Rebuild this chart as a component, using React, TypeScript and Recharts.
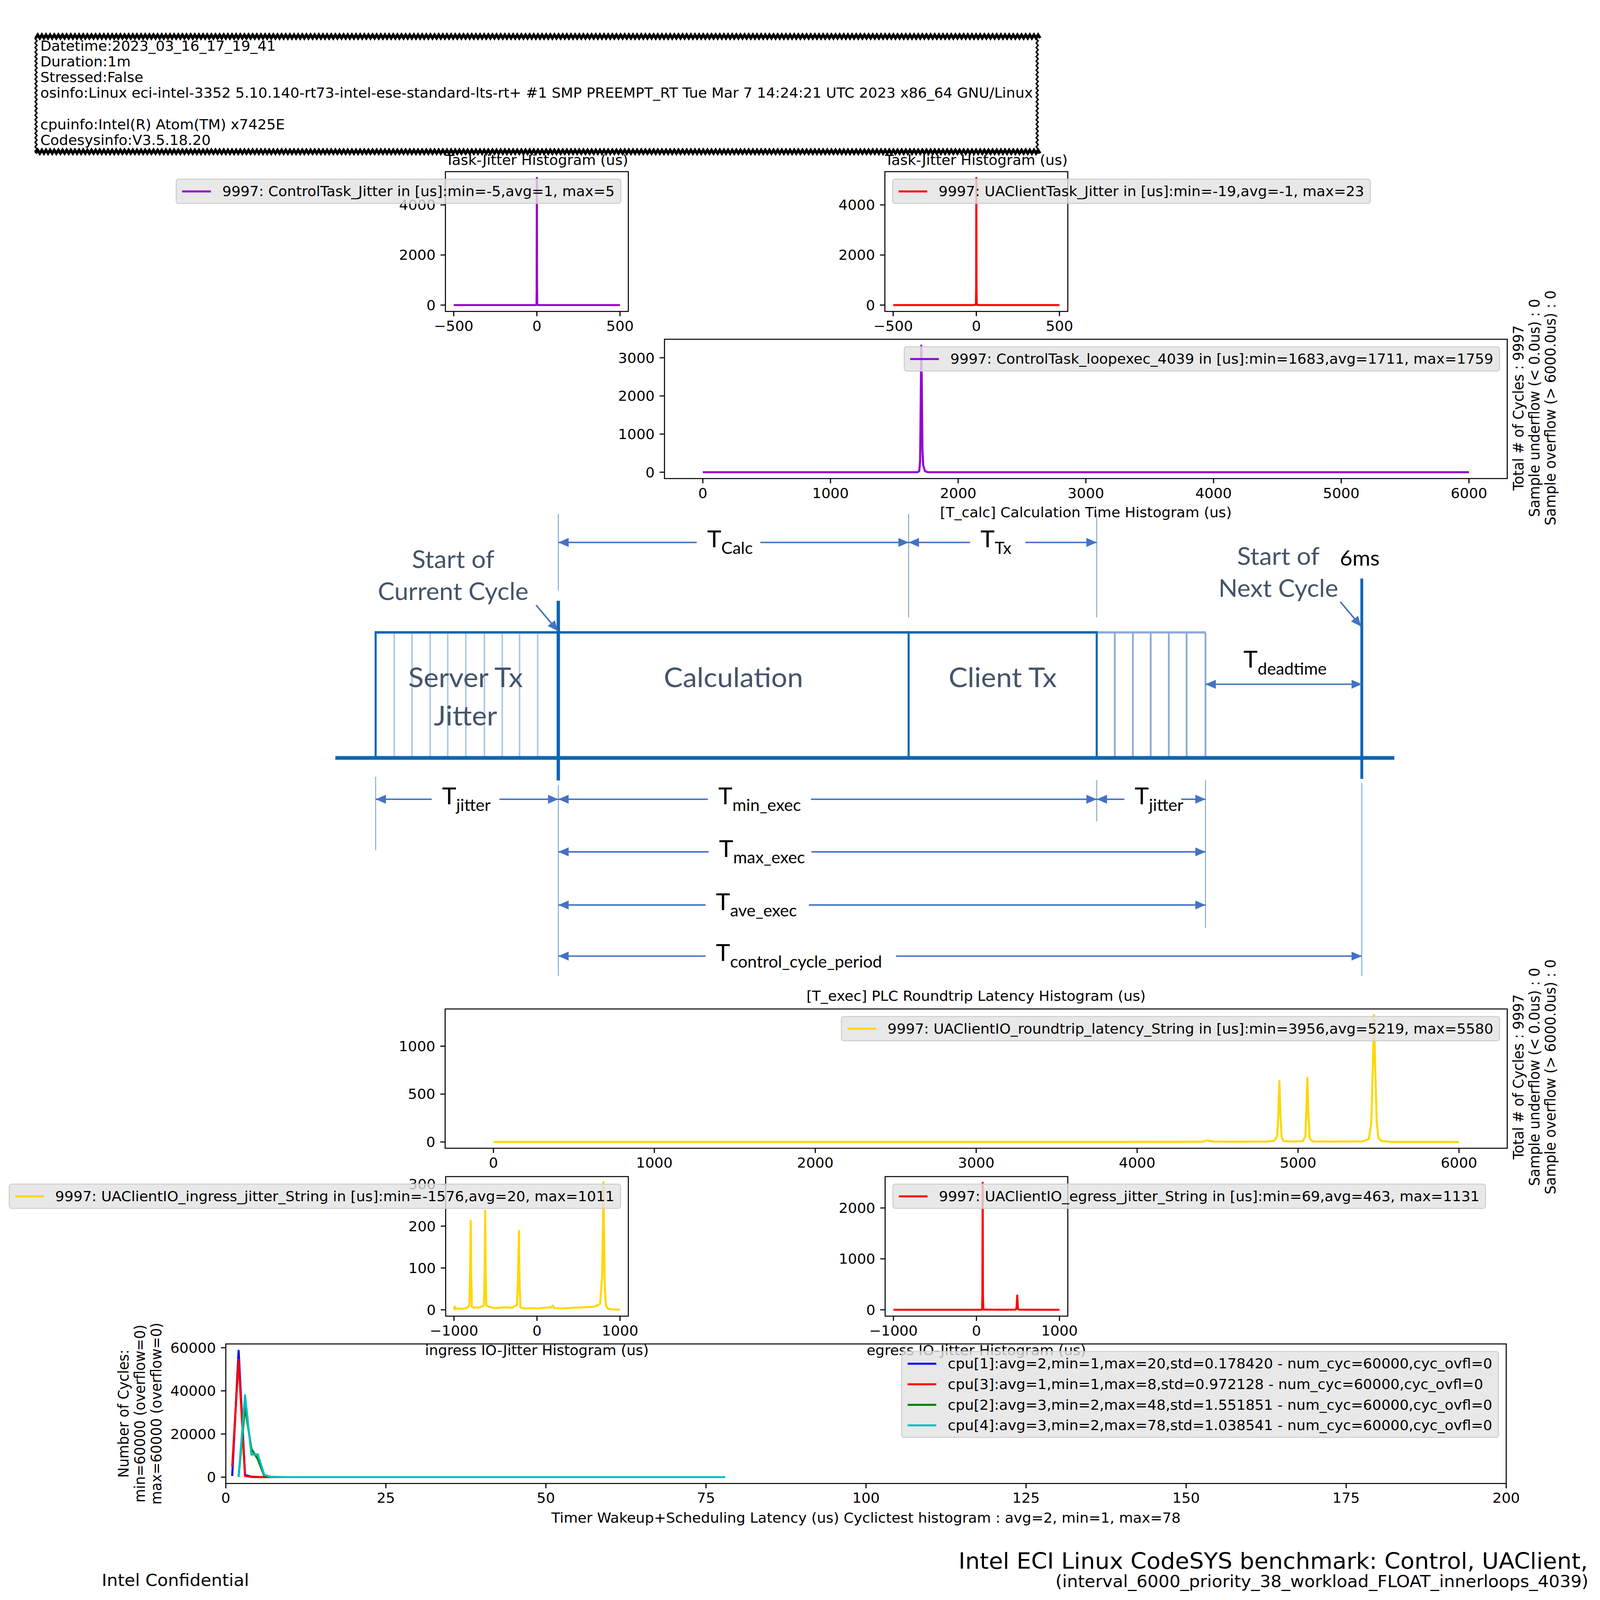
import React from "react";
import { LineChart, Line, XAxis, YAxis } from "recharts";

const W = 6193;
const H = 6386;
const FS = 55.6;
const FONT = "DejaVu Sans";

// ---- data ----
const controlJitter = [[-500, 0], [-6, 0], [-5, 3], [-2, 40], [-1, 600], [0, 5076], [1, 900], [2, 60], [5, 2], [6, 0], [500, 0]];
const uaClientJitter = [[-500, 0], [-20, 0], [-19, 1], [-5, 8], [-2, 60], [-1, 700], [0, 5076], [1, 800], [2, 80], [5, 6], [23, 1], [24, 0], [500, 0]];
const calcTime = [[0, 0], [1682, 0], [1683, 2], [1695, 30], [1702, 300], [1707, 1900], [1711, 3320], [1715, 2300], [1720, 600], [1726, 180], [1733, 110], [1740, 30], [1759, 2], [1760, 0], [6000, 0]];
const roundtrip = [[0, 0], [3955, 0], [3956, 1], [4400, 2], [4430, 12], [4440, 18], [4450, 8], [4480, 4], [4600, 3], [4800, 4], [4850, 10], [4870, 60], [4878, 300], [4884, 637], [4890, 300], [4898, 50], [4910, 8], [4960, 4], [5030, 8], [5046, 60], [5052, 350], [5058, 670], [5064, 300], [5072, 40], [5090, 6], [5200, 4], [5400, 6], [5440, 30], [5455, 200], [5465, 800], [5472, 1325], [5479, 800], [5489, 200], [5500, 40], [5520, 8], [5580, 1], [5581, 0], [6000, 0]];
const ingress = [[-1000, 0], [-990, 8], [-985, 1], [-960, 3], [-900, 2], [-850, 4], [-815, 10], [-805, 90], [-798, 213], [-792, 80], [-785, 8], [-760, 4], [-740, 6], [-700, 5], [-640, 10], [-630, 90], [-624, 237], [-618, 80], [-610, 10], [-560, 6], [-500, 4], [-400, 6], [-300, 5], [-240, 12], [-228, 80], [-217, 188], [-210, 60], [-200, 6], [-150, 3], [-50, 4], [0, 3], [100, 5], [170, 6], [190, 10], [205, 4], [300, 3], [450, 5], [600, 6], [700, 8], [760, 14], [785, 80], [795, 200], [800, 305], [806, 200], [815, 60], [830, 10], [860, 2], [900, 1], [1000, 0]];
const egress = [[-1000, 0], [60, 0], [68, 5], [72, 300], [75, 2495], [78, 300], [82, 10], [100, 3], [300, 1], [470, 2], [482, 20], [487, 150], [491, 280], [495, 150], [500, 20], [510, 2], [700, 1], [1000, 0]];
const cpu1 = [[1, 500], [2, 58600], [3, 1000], [4, 200], [5, 60], [6, 20], [7, 10], [8, 5], [9, 3], [10, 2], [12, 1], [15, 1], [20, 1]];
const cpu3 = [[1, 4900], [2, 54400], [3, 550], [4, 80], [5, 20], [6, 5], [7, 2], [8, 1]];
const cpu2 = [[2, 300], [3, 32500], [4, 13100], [5, 8300], [6, 550], [7, 120], [8, 40], [9, 20], [10, 10], [12, 5], [15, 3], [20, 2], [30, 1], [48, 1]];
const cpu4 = [[2, 50], [3, 38000], [4, 10400], [5, 10600], [6, 1100], [7, 150], [8, 50], [9, 20], [10, 10], [15, 4], [20, 3], [30, 2], [50, 1], [78, 1]];

const jitterTicksX = [-500, 0, 500];
const jitterTicksY = [0, 2000, 4000];
const usTicksX = [0, 1000, 2000, 3000, 4000, 5000, 6000];
const calcTicksY = [0, 1000, 2000, 3000];
const execTicksY = [0, 500, 1000];
const ioTicksX = [-1000, 0, 1000];
const ingressTicksY = [0, 100, 200, 300];
const egressTicksY = [0, 1000, 2000];
const cycTicksX = [0, 25, 50, 75, 100, 125, 150, 175, 200];
const cycTicksY = [0, 20000, 40000, 60000];

const infoLines = [
  "Datetime:2023_03_16_17_19_41",
  "Duration:1m",
  "Stressed:False",
  "osinfo:Linux eci-intel-3352 5.10.140-rt73-intel-ese-standard-lts-rt+ #1 SMP PREEMPT_RT Tue Mar 7 14:24:21 UTC 2023 x86_64 GNU/Linux",
  "",
  "cpuinfo:Intel(R) Atom(TM) x7425E",
  "Codesysinfo:V3.5.18.20",
];
const sideLines = ["Total # of Cycles : 9997", "Sample underflow (< 0.0us) : 0", "Sample overflow (> 6000.0us) : 0"];
const cycYLabel = ["Number of Cycles:", "min=60000 (overflow=0)", "max=60000 (overflow=0)"];

const pts = (arr: number[][]) => arr.map(([x, y]) => ({ x, y }));
const fmt = (v: number) => String(v).replace("-", "\u2212");

const TICK = { fill: "#000", fontSize: FS, fontFamily: FONT };
const TICKLINE = { stroke: "#000", strokeWidth: 4.4 };
const PADL = 320, PADB = 140, PADT = 20, PADR = 160;

type Series = { data: number[][]; color: string };

function Panel(props: {
  box: number[];
  xDomain: number[];
  xTicks: number[];
  yDomain: number[];
  yTicks: number[];
  series: Series[];
}) {
  const [l, t, r, b] = props.box;
  const w = r - l + PADL + PADR;
  const h = b - t + PADT + PADB;
  return (
    <>
      <div style={{ position: "absolute", left: l - PADL, top: t - PADT }}>
        <LineChart width={w} height={h} margin={{ top: PADT, right: PADR, left: 0, bottom: 0 }}>
          <XAxis
            type="number"
            dataKey="x"
            domain={props.xDomain}
            ticks={props.xTicks}
            allowDataOverflow
            interval={0}
            height={PADB}
            tickSize={19}
            tickMargin={19}
            axisLine={false}
            tickLine={TICKLINE}
            tick={TICK}
            tickFormatter={fmt}
          />
          <YAxis
            type="number"
            domain={props.yDomain}
            ticks={props.yTicks}
            allowDataOverflow
            interval={0}
            width={PADL}
            tickSize={19}
            tickMargin={19}
            axisLine={false}
            tickLine={TICKLINE}
            tick={TICK}
            tickFormatter={fmt}
          />
          {props.series.map((s, i) => (
            <Line
              key={i}
              data={pts(s.data)}
              dataKey="y"
              type="linear"
              stroke={s.color}
              strokeWidth={8}
              strokeLinejoin="round"
              dot={false}
              isAnimationActive={false}
            />
          ))}
        </LineChart>
      </div>
      <div
        style={{
          position: "absolute",
          left: l - 2.2,
          top: t - 2.2,
          width: r - l + 4.4,
          height: b - t + 4.4,
          border: "4.4px solid #000",
          boxSizing: "border-box",
        }}
      />
    </>
  );
}

function LegendBox(props: { side: "left" | "right"; x: number; y: number; items: { label: string; color: string }[] }) {
  const pos: React.CSSProperties = props.side === "left" ? { left: props.x } : { right: W - props.x };
  return (
    <div
      style={{
        position: "absolute",
        top: props.y,
        ...pos,
        background: "rgba(226,226,226,0.8)",
        border: "4px solid rgba(200,200,200,0.8)",
        borderRadius: 12,
        padding: "14px 22px 14px 21px",
        fontFamily: FONT,
        fontSize: FS,
        whiteSpace: "nowrap",
      }}
    >
      {props.items.map((it, i) => (
        <div key={i} style={{ display: "flex", alignItems: "center", height: 65, marginTop: i ? 17 : 0 }}>
          <div style={{ width: 111, height: 8, background: it.color, marginRight: 44 }} />
          <span>{it.label}</span>
        </div>
      ))}
    </div>
  );
}

function saw(x1: number, x2: number, y: number, amp: number, period: number) {
  let d = `M${x1},${y}`;
  for (let x = x1; x < x2; x += period) d += ` L${x + period / 2},${y - amp} L${x + period},${y}`;
  return d;
}
function sawV(x: number, y1: number, y2: number, amp: number, period: number) {
  let d = `M${x},${y1}`;
  for (let y = y1; y < y2; y += period) d += ` L${x - amp},${y + period / 2} L${x},${y + period}`;
  return d;
}

// ---- timing diagram (illustration) ----
const DG = { xs: 1454, x0: 2161, xc: 3517, xt: 4245, xj: 4666, xn: 5271, yTop: 2524, yBase: 3025 };
const serverJitterLines = [1526, 1595, 1665, 1733, 1803, 1875, 1944, 2011, 2081];
const clientJitterLines = [4315, 4385, 4454, 4524, 4593, 4666];
const guideLines = [
  [2161, 2051, 2357], [2161, 3133, 3895], [3517, 2051, 2464], [4245, 2051, 2464],
  [4245, 3113, 3279], [1454, 3100, 3394], [4666, 3113, 3703], [5271, 3125, 3895],
];
const arrows = [
  { y: 2165, x1: 2161, x2: 3517, g1: 2697, g2: 2943, sub: "Calc" },
  { y: 2165, x1: 3517, x2: 4245, g1: 3755, g2: 3969, sub: "Tx" },
  { y: 3190, x1: 1454, x2: 2161, g1: 1671, g2: 1933, sub: "jitter" },
  { y: 3190, x1: 2161, x2: 4245, g1: 2740, g2: 3139, sub: "min_exec" },
  { y: 3190, x1: 4245, x2: 4666, g1: 4352, g2: 4572, sub: "jitter" },
  { y: 3400, x1: 2161, x2: 4666, g1: 2743, g2: 3141, sub: "max_exec" },
  { y: 3612, x1: 2161, x2: 4666, g1: 2731, g2: 3131, sub: "ave_exec" },
  { y: 3816, x1: 2161, x2: 5271, g1: 2731, g2: 3468, sub: "control_cycle_period" },
];
const ARROW = "#4472c4";
const BOX = "#0b67b5";
const SLATE = "#44546a";

function Diagram() {
  return (
    <g>
      <defs>
        <marker id="ah" viewBox="0 0 10 10" refX="10" refY="5" markerWidth="40" markerHeight="36" markerUnits="userSpaceOnUse" orient="auto-start-reverse" preserveAspectRatio="none">
          <path d="M0,0 L10,5 L0,10 z" fill={ARROW} />
        </marker>
      </defs>
      {guideLines.map(([x, y1, y2], i) => (
        <line key={i} x1={x} x2={x} y1={y1} y2={y2} stroke="#5b9bd5" strokeWidth={3} />
      ))}
      {serverJitterLines.map((x) => (
        <line key={x} x1={x} x2={x} y1={DG.yTop} y2={DG.yBase} stroke="#a9cae7" strokeWidth={6} />
      ))}
      {clientJitterLines.map((x) => (
        <line key={x} x1={x} x2={x} y1={DG.yTop} y2={DG.yBase} stroke="#8faadc" strokeWidth={7} />
      ))}
      <line x1={DG.xt} x2={DG.xj} y1={DG.yTop} y2={DG.yTop} stroke="#8faadc" strokeWidth={9} />
      <line x1={DG.xs} x2={DG.xt} y1={DG.yTop} y2={DG.yTop} stroke={BOX} strokeWidth={10} />
      {[DG.xs, DG.xc, DG.xt].map((x) => (
        <line key={x} x1={x} x2={x} y1={DG.yTop - 5} y2={DG.yBase} stroke={BOX} strokeWidth={8} />
      ))}
      <line x1={DG.x0} x2={DG.x0} y1={2398} y2={3115} stroke={BOX} strokeWidth={13} />
      <line x1={DG.xn} x2={DG.xn} y1={2309} y2={3109} stroke={BOX} strokeWidth={11} />
      <line x1={1298} x2={5397} y1={DG.yBase} y2={DG.yBase} stroke={BOX} strokeWidth={15} />
      <line x1={2075} y1={2415} x2={2159} y2={2518} stroke={ARROW} strokeWidth={6} markerEnd="url(#ah)" />
      <line x1={5188} y1={2402} x2={5268} y2={2500} stroke={ARROW} strokeWidth={6} markerEnd="url(#ah)" />
      <line x1={DG.xj} x2={DG.xn} y1={2731} y2={2731} stroke={ARROW} strokeWidth={6} markerStart="url(#ah)" markerEnd="url(#ah)" />
      {arrows.map((a, i) => (
        <g key={i}>
          <line x1={a.g1} x2={a.x1} y1={a.y} y2={a.y} stroke={ARROW} strokeWidth={6} markerEnd="url(#ah)" />
          <line x1={a.g2} x2={a.x2} y1={a.y} y2={a.y} stroke={ARROW} strokeWidth={6} markerEnd="url(#ah)" />
          <text x={a.g1 + 40} y={a.y + 20} fontFamily="Lato" fontSize={93} fill="#000">
            T<tspan fontSize={65} dy={26}>{a.sub}</tspan>
          </text>
        </g>
      ))}
      <text x={4813} y={2664} fontFamily="Lato" fontSize={93} fill="#000">
        T<tspan fontSize={65} dy={29}>deadtime</tspan>
      </text>
      <g fontFamily="Lato" fill={SLATE} textAnchor="middle">
        <text x={1754} y={2267} fontSize={98}>Start of</text>
        <text x={1754} y={2394} fontSize={97}>Current Cycle</text>
        <text x={4948} y={2255} fontSize={98}>Start of</text>
        <text x={4948} y={2382} fontSize={97}>Next Cycle</text>
        <text x={1802} y={2742} fontSize={110}>Server Tx</text>
        <text x={1802} y={2896} fontSize={110}>Jitter</text>
        <text x={2839} y={2742} fontSize={110}>Calculation</text>
        <text x={3881} y={2742} fontSize={110}>Client Tx</text>
      </g>
      <text x={5263} y={2257} fontFamily="Lato" fontSize={84} fill="#000" textAnchor="middle">6ms</text>
    </g>
  );
}

function Rotated(props: { cx: number; cy: number; lines: string[]; step: number }) {
  return (
    <g transform={`rotate(-90, ${props.cx}, ${props.cy})`}>
      {props.lines.map((s, i) => (
        <text key={i} x={props.cx} y={props.cy + i * props.step} textAnchor="middle" dominantBaseline="central" fontFamily={FONT} fontSize={FS}>
          {s}
        </text>
      ))}
    </g>
  );
}

function Figure() {
  return (
    <div style={{ position: "relative", width: W, height: H, background: "#fff", fontFamily: FONT }}>
      <Panel box={[1724, 685, 2432, 1243]} xDomain={[-550, 550]} xTicks={jitterTicksX} yDomain={[-254, 5330]} yTicks={jitterTicksY} series={[{ data: controlJitter, color: "#9400d3" }]} />
      <Panel box={[3425, 685, 4133, 1243]} xDomain={[-550, 550]} xTicks={jitterTicksX} yDomain={[-254, 5330]} yTicks={jitterTicksY} series={[{ data: uaClientJitter, color: "#ff0000" }]} />
      <Panel box={[2572, 1354, 5834, 1910]} xDomain={[-300, 6300]} xTicks={usTicksX} yDomain={[-166, 3486]} yTicks={calcTicksY} series={[{ data: calcTime, color: "#9400d3" }]} />
      <Panel box={[1723, 4027, 5834, 4583]} xDomain={[-300, 6300]} xTicks={usTicksX} yDomain={[-66, 1389]} yTicks={execTicksY} series={[{ data: roundtrip, color: "#ffd700" }]} />
      <Panel box={[1725, 4696, 2432, 5253]} xDomain={[-1100, 1100]} xTicks={ioTicksX} yDomain={[-15.2, 318.5]} yTicks={ingressTicksY} series={[{ data: ingress, color: "#ffd700" }]} />
      <Panel box={[3426, 4696, 4133, 5253]} xDomain={[-1100, 1100]} xTicks={ioTicksX} yDomain={[-124.6, 2616]} yTicks={egressTicksY} series={[{ data: egress, color: "#ff0000" }]} />
      <Panel
        box={[874, 5364, 5830, 5921]}
        xDomain={[0, 200]}
        xTicks={cycTicksX}
        yDomain={[-2940, 61740]}
        yTicks={cycTicksY}
        series={[
          { data: cpu1, color: "#0000ff" },
          { data: cpu3, color: "#ff0000" },
          { data: cpu2, color: "#008000" },
          { data: cpu4, color: "#00bfbf" },
        ]}
      />

      <svg width={W} height={H} style={{ position: "absolute", left: 0, top: 0, pointerEvents: "none" }}>
        {/* info box */}
        <path d={saw(138, 4016, 152, 13, 16)} fill="none" stroke="#000" strokeWidth={11} />
        <path d={saw(138, 4016, 612, 13, 16)} fill="none" stroke="#000" strokeWidth={11} />
        <path d={sawV(143, 145, 605, 7, 18)} fill="none" stroke="#000" strokeWidth={6} />
        <path d={sawV(4018, 145, 605, 7, 18)} fill="none" stroke="#000" strokeWidth={6} />
        {infoLines.map((s, i) => (
          <text key={i} x={156} y={202 + i * 62.8} fontFamily={FONT} fontSize={FS}>{s}</text>
        ))}

        <g fontFamily={FONT} fontSize={FS} textAnchor="middle">
          <text x={2078} y={658}>Task-Jitter Histogram (us)</text>
          <text x={3779} y={658}>Task-Jitter Histogram (us)</text>
          <text x={3778} y={3994}>[T_exec] PLC Roundtrip Latency Histogram (us)</text>
          <text x={2078} y={5408}>ingress IO-Jitter Histogram (us)</text>
          <text x={3779} y={5408}>egress IO-Jitter Histogram (us)</text>
          <text x={3352} y={6078}>Timer Wakeup+Scheduling Latency (us) Cyclictest histogram : avg=2, min=1, max=78</text>
        </g>

        <Diagram />
        <text x={4203} y={2064} fontFamily={FONT} fontSize={FS} textAnchor="middle">[T_calc] Calculation Time Histogram (us)</text>

        <Rotated cx={5877} cy={1628} lines={sideLines} step={62} />
        <Rotated cx={5877} cy={4298} lines={sideLines} step={62} />
        <Rotated cx={478} cy={5642} lines={cycYLabel} step={64} />

        <text x={394} y={6330} fontFamily={FONT} fontSize={66.7}>Intel Confidential</text>
        <text x={6146} y={6262} fontFamily={FONT} fontSize={88.9} textAnchor="end">Intel ECI Linux CodeSYS benchmark: Control, UAClient,</text>
        <text x={6148} y={6334} fontFamily={FONT} fontSize={66.7} textAnchor="end">(interval_6000_priority_38_workload_FLOAT_innerloops_4039)</text>
      </svg>

      <LegendBox side="right" x={2405} y={713} items={[{ label: "9997: ControlTask_Jitter in [us]:min=-5,avg=1, max=5", color: "#9400d3" }]} />
      <LegendBox side="left" x={3453} y={713} items={[{ label: "9997: UAClientTask_Jitter in [us]:min=-19,avg=-1, max=23", color: "#ff0000" }]} />
      <LegendBox side="right" x={5806} y={1382} items={[{ label: "9997: ControlTask_loopexec_4039 in [us]:min=1683,avg=1711, max=1759", color: "#9400d3" }]} />
      <LegendBox side="right" x={5806} y={4055} items={[{ label: "9997: UAClientIO_roundtrip_latency_String in [us]:min=3956,avg=5219, max=5580", color: "#ffd700" }]} />
      <LegendBox side="right" x={2404} y={4724} items={[{ label: "9997: UAClientIO_ingress_jitter_String in [us]:min=-1576,avg=20, max=1011", color: "#ffd700" }]} />
      <LegendBox side="left" x={3454} y={4724} items={[{ label: "9997: UAClientIO_egress_jitter_String in [us]:min=69,avg=463, max=1131", color: "#ff0000" }]} />
      <LegendBox
        side="right"
        x={5802}
        y={5392}
        items={[
          { label: "cpu[1]:avg=2,min=1,max=20,std=0.178420 - num_cyc=60000,cyc_ovfl=0", color: "#0000ff" },
          { label: "cpu[3]:avg=1,min=1,max=8,std=0.972128 - num_cyc=60000,cyc_ovfl=0", color: "#ff0000" },
          { label: "cpu[2]:avg=3,min=2,max=48,std=1.551851 - num_cyc=60000,cyc_ovfl=0", color: "#008000" },
          { label: "cpu[4]:avg=3,min=2,max=78,std=1.038541 - num_cyc=60000,cyc_ovfl=0", color: "#00bfbf" },
        ]}
      />
    </div>
  );
}

export default function App() {
  // the photographed area is smaller than the figure, so fit the figure into it
  const vw = Math.min(window.innerWidth || W, 4096);
  const vh = Math.min(window.innerHeight || H, 4096);
  const sx = Math.min(1, vw / W);
  const sy = Math.min(1, vh / H);
  return (
    <div style={{ position: "fixed", left: 0, top: 0, width: W * sx, height: H * sy, overflow: "hidden", background: "#fff" }}>
      <style>{"html,body{margin:0;overflow:hidden}"}</style>
      <div style={{ transform: `scale(${sx}, ${sy})`, transformOrigin: "0 0", width: W, height: H }}>
        <Figure />
      </div>
    </div>
  );
}
